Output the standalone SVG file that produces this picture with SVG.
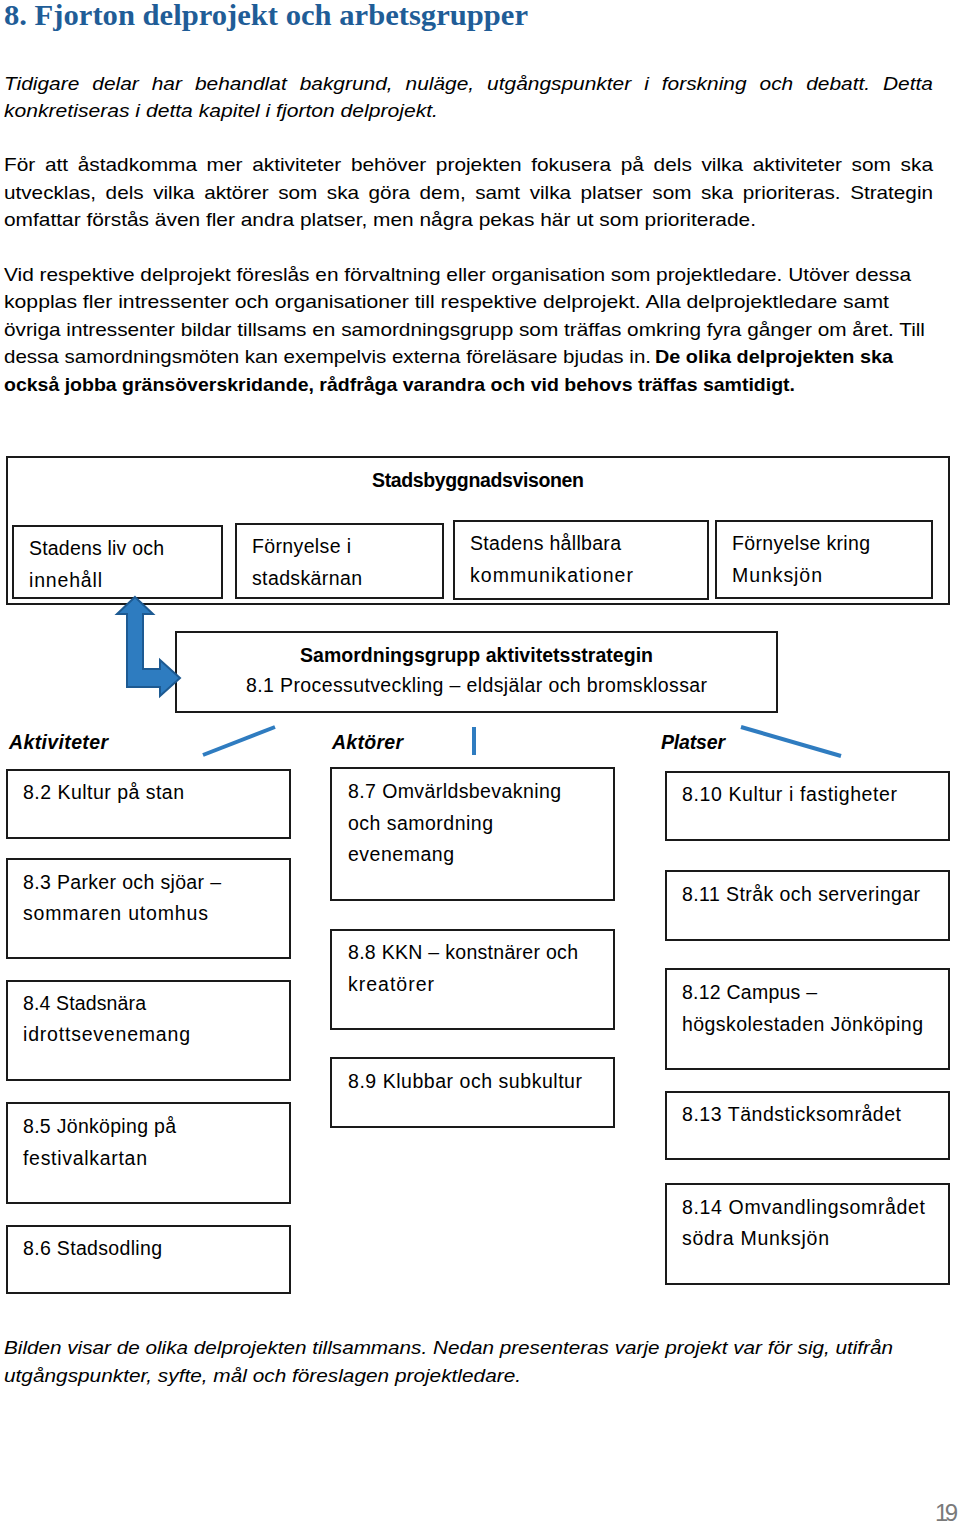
<svg xmlns="http://www.w3.org/2000/svg" width="960" height="1523" viewBox="0 0 960 1523">
<style>
text{font-family:"Liberation Sans",Arial,sans-serif;fill:#000}
.title{font-family:"Liberation Serif","DejaVu Serif",serif;font-weight:bold;font-size:30px;fill:#1f5d97}
.p{font-size:19px}
.pi{font-size:19px;font-style:italic}
.b{font-weight:bold}
.bx{font-size:19.5px}
.hd{font-size:19.5px;font-weight:bold;font-style:italic}
.box{fill:#fff;stroke:#1a1a1a;stroke-width:2}
.blue{stroke:#2f7cc0;stroke-width:4;fill:none}
.pg{font-size:24px;fill:#7a7a7a}
</style>
<rect width="960" height="1523" fill="#fff"/>

<text class="title" x="4" y="25" textLength="524" lengthAdjust="spacingAndGlyphs">8. Fjorton delprojekt och arbetsgrupper</text>

<text class="pi" x="4" y="90" word-spacing="6.5" textLength="929" lengthAdjust="spacingAndGlyphs">Tidigare delar har behandlat bakgrund, nuläge, utgångspunkter i forskning och debatt. Detta</text>
<text class="pi" x="4" y="117" textLength="434" lengthAdjust="spacingAndGlyphs">konkretiseras i detta kapitel i fjorton delprojekt.</text>

<text class="p" x="4" y="171" word-spacing="3.5" textLength="929" lengthAdjust="spacingAndGlyphs">För att åstadkomma mer aktiviteter behöver projekten fokusera på dels vilka aktiviteter som ska</text>
<text class="p" x="4" y="199" word-spacing="3.5" textLength="929" lengthAdjust="spacingAndGlyphs">utvecklas, dels vilka aktörer som ska göra dem, samt vilka platser som ska prioriteras. Strategin</text>
<text class="p" x="4" y="226" textLength="752" lengthAdjust="spacingAndGlyphs">omfattar förstås även fler andra platser, men några pekas här ut som prioriterade.</text>

<text class="p" x="4" y="281" textLength="907" lengthAdjust="spacingAndGlyphs">Vid respektive delprojekt föreslås en förvaltning eller organisation som projektledare. Utöver dessa</text>
<text class="p" x="4" y="308" textLength="885" lengthAdjust="spacingAndGlyphs">kopplas fler intressenter och organisationer till respektive delprojekt.  Alla delprojektledare samt</text>
<text class="p" x="4" y="336" textLength="921" lengthAdjust="spacingAndGlyphs">övriga intressenter bildar tillsams en samordningsgrupp som träffas omkring fyra gånger om året. Till</text>
<text class="p" x="4" y="363" textLength="647" lengthAdjust="spacingAndGlyphs">dessa samordningsmöten kan exempelvis externa föreläsare bjudas in.</text>
<text class="p b" x="655" y="363" textLength="238" lengthAdjust="spacingAndGlyphs">De olika delprojekten ska</text>
<text class="p b" x="4" y="391" textLength="791" lengthAdjust="spacingAndGlyphs">också jobba gränsöverskridande, rådfråga varandra och vid behovs träffas samtidigt.</text>

<g id="stadsbyggnadsvisionen">
<rect class="box" x="7" y="457" width="942" height="147"/>
<text class="bx b" x="372" y="487" textLength="212">Stadsbyggnadsvisonen</text>
</g>
<g id="stadens-liv">
<rect class="box" x="13" y="526" width="209" height="72"/>
<text class="bx" x="29" y="555" textLength="135">Stadens liv och</text>
<text class="bx" x="29" y="587" textLength="73">innehåll</text>
</g>
<g id="fornyelse-stadskarnan">
<rect class="box" x="236" y="524" width="207" height="74"/>
<text class="bx" x="252" y="553" textLength="99">Förnyelse i</text>
<text class="bx" x="252" y="585" textLength="110">stadskärnan</text>
</g>
<g id="kommunikationer">
<rect class="box" x="454" y="521" width="254" height="78"/>
<text class="bx" x="470" y="550" textLength="151">Stadens hållbara</text>
<text class="bx" x="470" y="582" textLength="163">kommunikationer</text>
</g>
<g id="fornyelse-munksjon">
<rect class="box" x="716" y="521" width="216" height="77"/>
<text class="bx" x="732" y="550" textLength="138">Förnyelse kring</text>
<text class="bx" x="732" y="582" textLength="90">Munksjön</text>
</g>

<g id="samordningsgrupp">
<rect class="box" x="176" y="632" width="601" height="80"/>
<text class="bx b" x="300" y="662" textLength="353">Samordningsgrupp aktivitetsstrategin</text>
<text class="bx" x="246" y="692" textLength="461">8.1 Processutveckling – eldsjälar och bromsklossar</text>
</g>

<g id="connectors">
<polygon points="135,597 153,614 143,614 143,669 160,669 160,660 180,678 160,696 160,687 127,687 127,614 117,614" fill="#2e7cc0" stroke="#1d5a92" stroke-width="2" stroke-linejoin="miter"/>
<line class="blue" x1="203" y1="755" x2="275" y2="727"/>
<line class="blue" x1="474" y1="727" x2="474" y2="755"/>
<line class="blue" x1="741" y1="727" x2="841" y2="756"/>
</g>

<g id="headings">
<text class="hd" x="9" y="749" textLength="99">Aktiviteter</text>
<text class="hd" x="332" y="749" textLength="71">Aktörer</text>
<text class="hd" x="661" y="749" textLength="64">Platser</text>
</g>

<g id="n8-2"><rect class="box" x="7" y="770" width="283" height="68"/><text class="bx" x="23" y="799" textLength="161">8.2 Kultur på stan</text></g>
<g id="n8-3"><rect class="box" x="7" y="859" width="283" height="99"/><text class="bx" x="23" y="889" textLength="198">8.3 Parker och sjöar –</text><text class="bx" x="23" y="920" textLength="185">sommaren utomhus</text></g>
<g id="n8-4"><rect class="box" x="7" y="981" width="283" height="99"/><text class="bx" x="23" y="1010" textLength="123">8.4 Stadsnära</text><text class="bx" x="23" y="1041" textLength="167">idrottsevenemang</text></g>
<g id="n8-5"><rect class="box" x="7" y="1103" width="283" height="100"/><text class="bx" x="23" y="1133" textLength="153">8.5 Jönköping på</text><text class="bx" x="23" y="1165" textLength="124">festivalkartan</text></g>
<g id="n8-6"><rect class="box" x="7" y="1226" width="283" height="67"/><text class="bx" x="23" y="1255" textLength="139">8.6 Stadsodling</text></g>

<g id="n8-7"><rect class="box" x="331" y="768" width="283" height="132"/><text class="bx" x="348" y="798" textLength="213">8.7 Omvärldsbevakning</text><text class="bx" x="348" y="830" textLength="145">och samordning</text><text class="bx" x="348" y="861" textLength="106">evenemang</text></g>
<g id="n8-8"><rect class="box" x="331" y="930" width="283" height="99"/><text class="bx" x="348" y="959" textLength="230">8.8 KKN – konstnärer och</text><text class="bx" x="348" y="991" textLength="86">kreatörer</text></g>
<g id="n8-9"><rect class="box" x="331" y="1058" width="283" height="69"/><text class="bx" x="348" y="1088" textLength="234">8.9 Klubbar och subkultur</text></g>

<g id="n8-10"><rect class="box" x="666" y="772" width="283" height="68"/><text class="bx" x="682" y="801" textLength="215">8.10 Kultur i fastigheter</text></g>
<g id="n8-11"><rect class="box" x="666" y="871" width="283" height="69"/><text class="bx" x="682" y="901" textLength="238">8.11 Stråk och serveringar</text></g>
<g id="n8-12"><rect class="box" x="666" y="969" width="283" height="100"/><text class="bx" x="682" y="999" textLength="135">8.12 Campus –</text><text class="bx" x="682" y="1031" textLength="241">högskolestaden Jönköping</text></g>
<g id="n8-13"><rect class="box" x="666" y="1092" width="283" height="67"/><text class="bx" x="682" y="1121" textLength="219">8.13 Tändsticksområdet</text></g>
<g id="n8-14"><rect class="box" x="666" y="1184" width="283" height="100"/><text class="bx" x="682" y="1214" textLength="243">8.14 Omvandlingsområdet</text><text class="bx" x="682" y="1245" textLength="147">södra Munksjön</text></g>

<text class="pi" x="4" y="1354" textLength="889" lengthAdjust="spacingAndGlyphs">Bilden visar de olika delprojekten tillsammans. Nedan presenteras varje projekt var för sig, utifrån</text>
<text class="pi" x="4" y="1382" textLength="517" lengthAdjust="spacingAndGlyphs">utgångspunkter, syfte, mål och föreslagen projektledare.</text>

<text class="pg" x="935" y="1521" textLength="23">19</text>
</svg>
